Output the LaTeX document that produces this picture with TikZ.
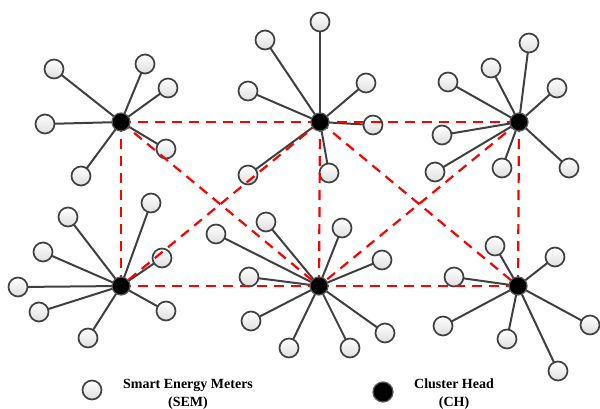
\documentclass[tikz,border=0pt]{standalone}
\usepackage{fontspec}
\setmainfont{Liberation Serif}
\pgfdeclarelayer{bg}
\pgfdeclarelayer{mid}
\pgfdeclarelayer{fg}
\pgfsetlayers{bg,main,mid,fg}
\begin{document}
\begin{tikzpicture}[x=1pt,y=-1pt,
  sem/.style={circle,draw=black!75,line width=1.7pt,minimum size=19pt,inner sep=0pt,top color=white,bottom color=black!13},
  ch/.style={circle,draw=black!65,line width=1.2pt,fill=black,minimum size=18pt,inner sep=0pt},
  link/.style={draw=black!75,line width=2pt},
  redlink/.style={draw=red,line width=2.2pt,dash pattern=on 10pt off 7pt},
  legend/.style={align=center,inner sep=0pt,font=\fontsize{14}{18}\selectfont\bfseries}]
\useasboundingbox (0,0) rectangle (600,408);
% cluster heads
\begin{pgfonlayer}{fg}
\node[ch] (c1) at (121,122) {};
\node[ch] (c2) at (320,122) {};
\node[ch] (c3) at (519,122) {};
\node[ch] (c4) at (121,286) {};
\node[ch] (c5) at (319,286) {};
\node[ch] (c6) at (518,286) {};
\end{pgfonlayer}
% smart energy meters
\foreach \n/\x/\y in {a1/54/69,a2/145/64,a3/168/88,a4/45/124,a5/166/149,a6/81/176,
  b1/320/22,b2/265/40,b3/248/91,b4/366/83,b5/373/125,b6/329/173,b7/248/175,
  d1/529/43,d2/491/68,d3/448/82,d4/557/88,d5/442/135,d6/435/172,d7/502/168,d8/569/168,
  e1/151/203,e2/68/217,e3/43/252,e4/18/287,e5/39/312,e6/162/258,e7/166/311,e8/88/338,
  f1/216/234,f2/266/222,f3/342/228,f4/382/260,f5/249/277,f6/251/321,f7/289/348,f8/350/348,f9/385/333,
  g1/495/246,g2/555/257,g3/454/277,g4/443/326,g5/507/339,g6/590/325,g7/558/371}
  \node[sem] (\n) at (\x,\y) {};
% links
\begin{pgfonlayer}{bg}
\foreach \n in {a1,a2,a3,a4,a5,a6} \draw[link] (c1.center) -- (\n.center);
\foreach \n in {b1,b2,b3,b4,b5,b6,b7} \draw[link] (c2.center) -- (\n.center);
\foreach \n in {d1,d2,d3,d4,d5,d6,d7,d8} \draw[link] (c3.center) -- (\n.center);
\foreach \n in {e1,e2,e3,e4,e5,e6,e7,e8} \draw[link] (c4.center) -- (\n.center);
\foreach \n in {f1,f2,f3,f4,f5,f6,f7,f8,f9} \draw[link] (c5.center) -- (\n.center);
\foreach \n in {g1,g2,g3,g4,g5,g6,g7} \draw[link] (c6.center) -- (\n.center);
\end{pgfonlayer}
% CH interconnections
\begin{pgfonlayer}{mid}
\foreach \p/\q in {c1/c2,c2/c3,c4/c5,c5/c6,c1/c4,c2/c5,c3/c6,c1/c5,c2/c4,c2/c6,c3/c5}
  \draw[redlink] (\p.center) -- (\q.center);
\end{pgfonlayer}
% legend
\node[sem] (lsem) at (92,390) {};
\node[legend] (lsemt) at (188,394) {Smart Energy Meters\\(SEM)};
\node[ch,minimum size=20pt] (lch) at (383,392) {};
\node[legend] (lcht) at (454,394) {Cluster Head\\(CH)};
\end{tikzpicture}
\end{document}
